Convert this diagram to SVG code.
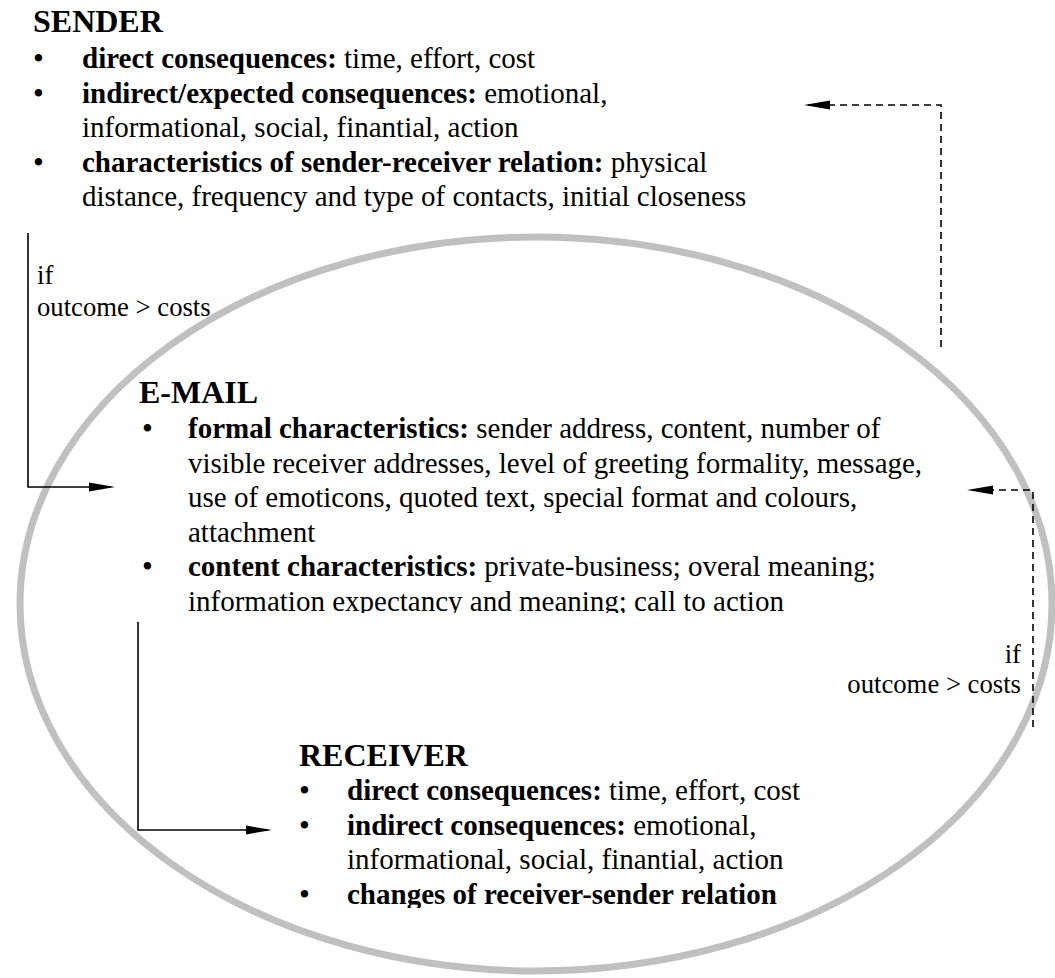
<svg xmlns="http://www.w3.org/2000/svg" width="1055" height="978" viewBox="0 0 1055 978">
<defs>
<style>
text{font-family:"Liberation Serif","Times New Roman",serif;fill:#000}
.t{font-size:32px;font-weight:bold}
.b{font-size:29px}
.bu{font-size:31px}
.bb{font-weight:bold}
.lbl{font-size:26.7px}
.ell{fill:none;stroke:#c0c0c0;stroke-width:7}
.con{fill:none;stroke:#000;stroke-width:1.6}
.dash{stroke-dasharray:7 5}
</style>
<marker id="ah" markerUnits="userSpaceOnUse" markerWidth="30" markerHeight="12" refX="22" refY="5" orient="auto" overflow="visible">
<path d="M0,0.5 L26,5 L0,9.5 Z" fill="#000" stroke="none"/>
</marker>
<clipPath id="clipE"><rect x="0" y="0" width="1055" height="613"/></clipPath>
<clipPath id="clipR"><rect x="0" y="0" width="1055" height="908"/></clipPath>
</defs>
<rect width="1055" height="978" fill="#fff"/>
<ellipse id="email-boundary" class="ell" cx="536" cy="604" rx="516" ry="367"/>

<g id="sender">
<text class="t" x="33" y="32">SENDER</text>
<text class="bu" x="33" y="69">•</text>
<text class="b" x="82" y="68"><tspan class="bb">direct consequences:</tspan> time, effort, cost</text>
<text class="bu" x="33" y="103.5">•</text>
<text class="b" x="82" y="102.5"><tspan class="bb">indirect/expected consequences:</tspan> emotional,</text>
<text class="b" x="82" y="137">informational, social, finantial, action</text>
<text class="bu" x="33" y="172.5">•</text>
<text class="b" x="82" y="171.5"><tspan class="bb">characteristics of sender-receiver relation:</tspan> physical</text>
<text class="b" x="82" y="206">distance, frequency and type of contacts, initial closeness</text>
</g>

<g id="email" clip-path="url(#clipE)">
<text class="t" x="139" y="403">E-MAIL</text>
<text class="bu" x="142" y="439">•</text>
<text class="b" x="188" y="438"><tspan class="bb">formal characteristics:</tspan> sender address, content, number of</text>
<text class="b" x="188" y="472.5">visible receiver addresses, level of greeting formality, message,</text>
<text class="b" x="188" y="507">use of emoticons, quoted text, special format and colours,</text>
<text class="b" x="188" y="541.5">attachment</text>
<text class="bu" x="142" y="577">•</text>
<text class="b" x="188" y="576"><tspan class="bb">content characteristics:</tspan> private-business; overal meaning;</text>
<text class="b" x="188" y="610.5">information expectancy and meaning; call to action</text>
</g>

<g id="receiver" clip-path="url(#clipR)">
<text class="t" x="299" y="766">RECEIVER</text>
<text class="bu" x="299" y="801">•</text>
<text class="b" x="347" y="800"><tspan class="bb">direct consequences:</tspan> time, effort, cost</text>
<text class="bu" x="299" y="835.5">•</text>
<text class="b" x="347" y="834.5"><tspan class="bb">indirect consequences:</tspan> emotional,</text>
<text class="b" x="347" y="869">informational, social, finantial, action</text>
<text class="bu" x="299" y="904.5">•</text>
<text class="b bb" x="347" y="903.5">changes of receiver-sender relation</text>
</g>

<g id="connectors">
<path class="con" d="M28,233 V487 H111" marker-end="url(#ah)"/>
<path class="con" d="M138,622 V830 H268" marker-end="url(#ah)"/>
<path class="con dash" d="M941,347 V105 H808" marker-end="url(#ah)"/>
<path class="con dash" d="M1033,727 V490 H971" marker-end="url(#ah)"/>
<text class="lbl" x="37" y="284">if</text>
<text class="lbl" x="37" y="316">outcome &gt; costs</text>
<text class="lbl" x="1021" y="663" text-anchor="end">if</text>
<text class="lbl" x="1021" y="693" text-anchor="end">outcome &gt; costs</text>
</g>
</svg>
